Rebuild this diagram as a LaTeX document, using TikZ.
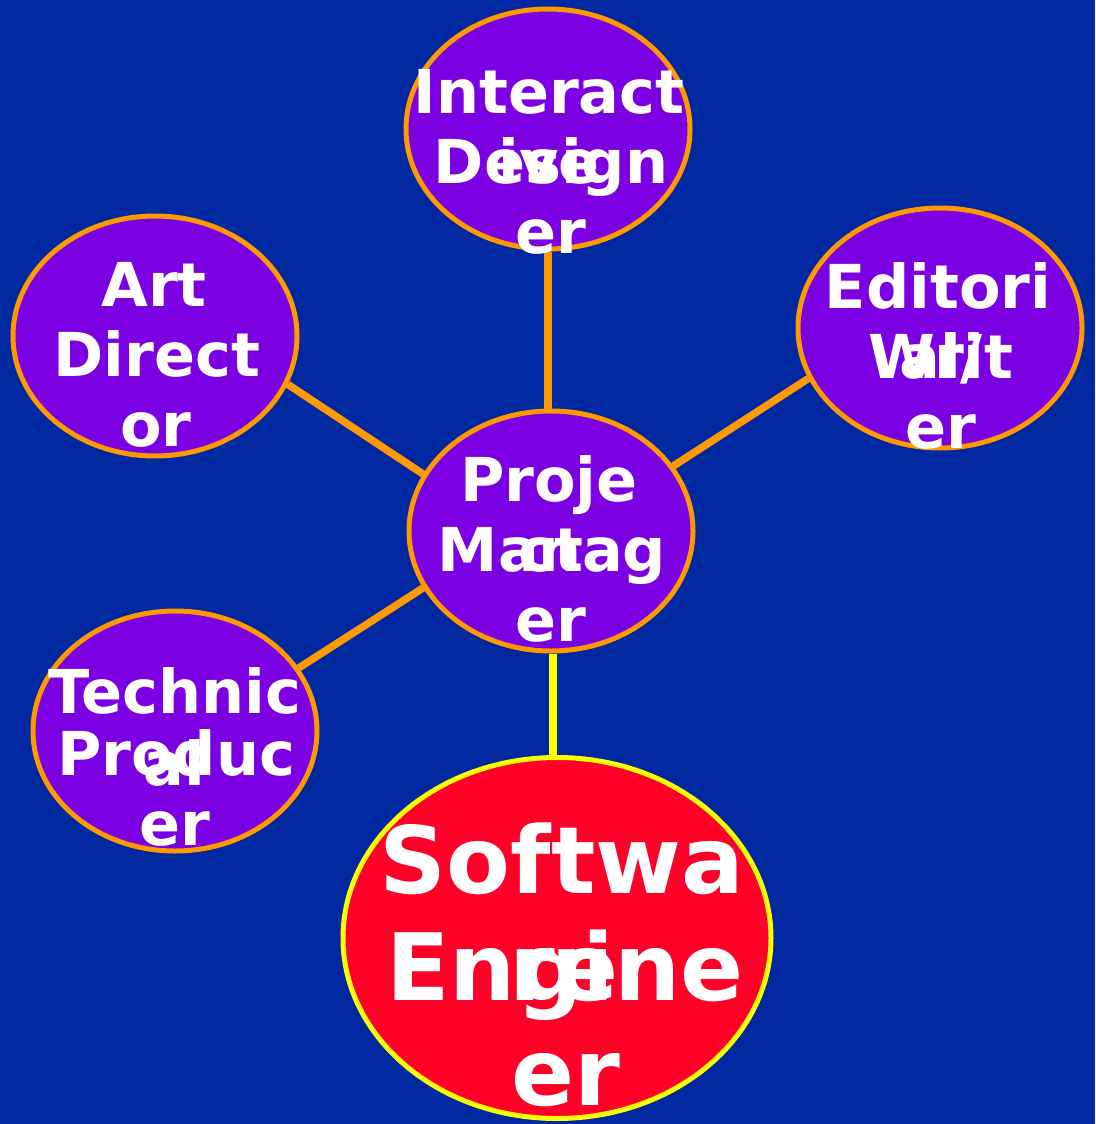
\documentclass[tikz,border=0pt]{standalone}
\usepackage{fontspec}
\setmainfont{DejaVu Sans}[BoldFont={DejaVu Sans Bold}]
\usetikzlibrary{shapes.geometric}
\definecolor{bgblue}{RGB}{0,40,160}
\definecolor{rolepurple}{RGB}{123,0,226}
\definecolor{leadred}{RGB}{255,0,40}
\definecolor{linkorange}{RGB}{255,153,0}
\definecolor{linkyellow}{RGB}{255,255,0}
\pgfdeclarelayer{canvas}
\pgfdeclarelayer{links}
\pgfsetlayers{canvas,links,main}
\tikzset{
  role/.style={ellipse, draw=linkorange, line width=5pt, fill=rolepurple,
    minimum width=284pt, minimum height=240pt, inner sep=0pt},
  lead/.style={ellipse, draw=linkyellow, line width=5pt, fill=leadred,
    minimum width=428pt, minimum height=361pt, inner sep=0pt},
  lbl/.style={text=white, anchor=base, inner sep=0pt,
    font=\bfseries\fontsize{60.5}{70}\selectfont},
  biglbl/.style={text=white, anchor=base, inner sep=0pt,
    font=\bfseries\fontsize{93}{106}\selectfont},
  link/.style={draw=linkorange, line width=7.5pt},
  mainlink/.style={draw=linkyellow, line width=7.5pt}
}
\begin{document}
\begin{tikzpicture}[x=1pt, y=-1pt]
\begin{pgfonlayer}{canvas}
  \fill[bgblue] (0,0) rectangle (1095,1124);
\end{pgfonlayer}
\useasboundingbox (0,0) rectangle (1095,1124);

% role bubbles
\node[role] (id)  at (548,129) {};
\node[role] (art) at (155,336) {};
\node[role] (ed)  at (940,328) {};
\node[role] (pm)  at (551,531) {};
\node[role] (tp)  at (175,731) {};
\node[lead] (se)  at (557,938) {};

% labels, split into wrapped pieces
\node[lbl] (id1) at (549,113) {Interact};
\node[lbl] (id2) at (549,183) {ive};
\node[lbl] (id3) at (551,183) {Design};
\node[lbl] (id4) at (551,253) {er};

\node[lbl] (art1) at (154,306) {Art};
\node[lbl] (art2) at (157,376) {Direct};
\node[lbl] (art3) at (156,446) {or};

\node[lbl] (ed1) at (938,308) {Editori};
\node[lbl] (ed2) at (941,378) {al/};
\node[lbl] (ed3) at (941,378) {Writ};
\node[lbl] (ed4) at (941,448) {er};

\node[lbl] (pm1) at (549,501) {Proje};
\node[lbl] (pm2) at (551,571) {ct};
\node[lbl] (pm3) at (552,571) {Manag};
\node[lbl] (pm4) at (551,641) {er};

\node[lbl] (tp1) at (175,713) {Technic};
\node[lbl] (tp2) at (174,785) {al};
\node[lbl] (tp3) at (176,775) {Produc};
\node[lbl] (tp4) at (175,845) {er};

\node[biglbl] (se1) at (562,893) {Softwa};
\node[biglbl] (se2) at (564,1000) {re};
\node[biglbl] (se3) at (565,1000) {Engine};
\node[biglbl] (se4) at (566,1105) {er};

% connectors behind the bubbles
\begin{pgfonlayer}{links}
  \draw[link] (id.south) -- (id.south |- pm.north);
  \draw[link] (art.-20.4) -- (pm.156.5);
  \draw[link] (ed.201.4) -- (pm.28.4);
  \draw[link] (tp.27.5) -- (pm.204.7);
  \draw[mainlink] ([xshift=2pt]pm.south) -- ([xshift=2pt]pm.south |- se.north);
\end{pgfonlayer}
\end{tikzpicture}
\end{document}
